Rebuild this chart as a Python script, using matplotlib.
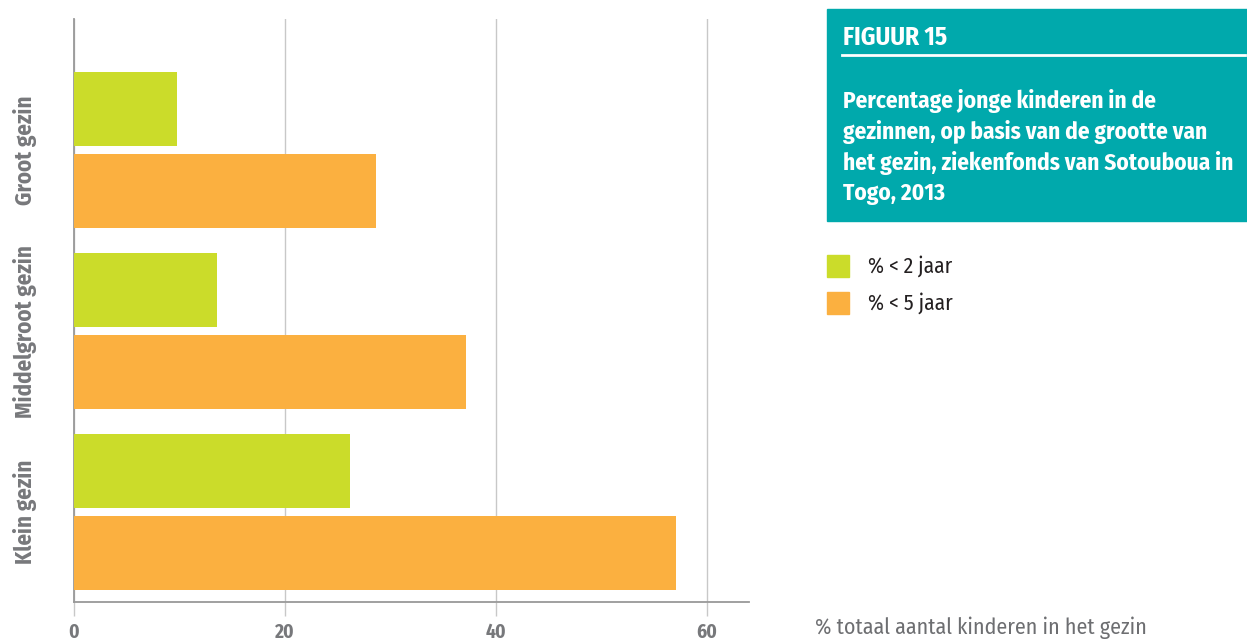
import numpy as np
import matplotlib.pyplot as plt
from matplotlib.patches import Rectangle

plt.rcParams['font.family'] = ['Fira Sans Condensed', 'DejaVu Sans']

groepen = ['Klein gezin', 'Middelgroot gezin', 'Groot gezin']
onder_2 = [26.2, 13.6, 9.8]
onder_5 = [57.1, 37.2, 28.6]
xticks = [0, 20, 40, 60]

groen = '#cbdc2a'
oranje = '#fbb040'
teal = '#00a9ac'
grijs = '#77787b'

fig = plt.figure(figsize=(12.47, 6.4), dpi=100)
ax = fig.add_axes([0.0593, 0.0594, 0.5413, 0.9106])

y = np.arange(len(groepen))
h = 0.409
ax.barh(y + 0.2265, onder_2, height=h, color=groen, zorder=3)
ax.barh(y - 0.2265, onder_5, height=h, color=oranje, zorder=3)

ax.set_xlim(0, 64)
ax.set_ylim(-0.497, 2.724)
ax.set_xticks(xticks)
ax.set_xticklabels([str(v) for v in xticks], fontsize=14, fontweight='bold', color=grijs)
ax.set_yticks(y)
ax.set_yticklabels(groepen, rotation=90, va='center', fontsize=16.5,
                   fontweight='bold', color=grijs)
ax.tick_params(axis='y', length=0, pad=35)
for lab in ax.get_yticklabels():
    lab.set_horizontalalignment('center')
ax.tick_params(axis='x', length=10, width=1, color='#c8c8c8', pad=5)
ax.grid(axis='x', color='#c8c8c8', linewidth=1, zorder=0)

for s in ['top', 'right']:
    ax.spines[s].set_visible(False)
ax.spines['left'].set_color('#999999')
ax.spines['bottom'].set_color('#999999')
ax.spines['left'].set_linewidth(1.3)
ax.spines['bottom'].set_linewidth(1.3)

fig.text(815 / 1247, 1 - 628 / 640, '% totaal aantal kinderen in het gezin',
         fontsize=15.8, color='#6d6e71', va='center', ha='left')

# titelblok rechtsboven
fig.patches.append(Rectangle((827 / 1247, 1 - 221 / 640), 420 / 1247, 212 / 640,
                             transform=fig.transFigure, color=teal, zorder=0))
fig.text(843 / 1247, 1 - 38 / 640, 'FIGUUR 15', fontsize=18, fontweight='bold',
         color='white', va='center')
fig.add_artist(plt.Line2D([842 / 1247, 1245 / 1247], [1 - 55 / 640, 1 - 55 / 640],
                          color='white', linewidth=2, transform=fig.transFigure))
titel = ('Percentage jonge kinderen in de\n'
         'gezinnen, op basis van de grootte van\n'
         'het gezin, ziekenfonds van Sotouboua in\n'
         'Togo, 2013')
fig.text(843 / 1247, 1 - 89 / 640, titel, fontsize=16.7, fontweight='bold',
         color='white', va='top', linespacing=1.37)

# legenda
for yy, kleur, lab in [(266, groen, '% < 2 jaar'), (303, oranje, '% < 5 jaar')]:
    fig.patches.append(Rectangle((827 / 1247, 1 - (yy + 11) / 640), 22 / 1247, 22 / 640,
                                 transform=fig.transFigure, color=kleur))
    fig.text(868 / 1247, 1 - yy / 640, lab, fontsize=15.5, color='#231f20', va='center')

fig.savefig('out.png', dpi=100)
